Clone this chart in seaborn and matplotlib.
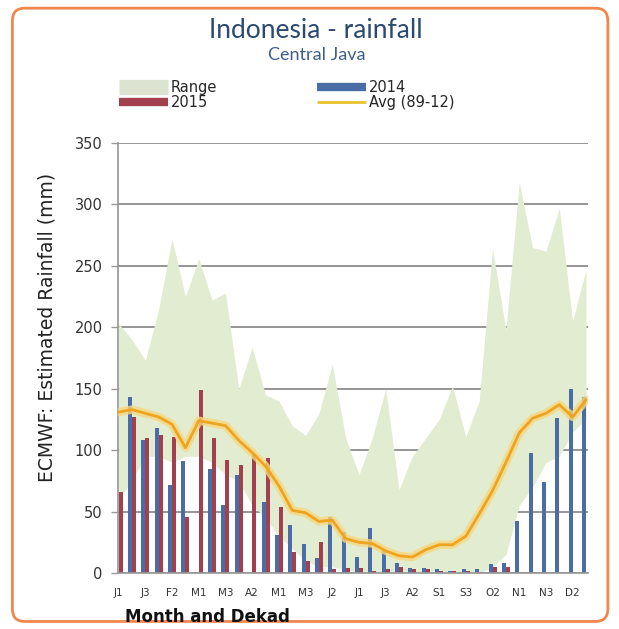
import numpy as np
import pandas as pd
import seaborn as sns
from matplotlib import pyplot as plt
from matplotlib.lines import Line2D
from matplotlib.patches import FancyBboxPatch

# dekads: Jan1 .. Dec3
dekads = ["J1", "J2", "J3", "F1", "F2", "F3", "M1", "M2", "M3", "A1", "A2", "A3",
          "M1", "M2", "M3", "J1", "J2", "J3", "J1", "J2", "J3", "A1", "A2", "A3",
          "S1", "S2", "S3", "O1", "O2", "O3", "N1", "N2", "N3", "D1", "D2", "D3"]

range_min = [60, 75, 95, 95, 90, 95, 95, 90, 80, 75, 55, 45,
             30, 20, 10, 5, 5, 3, 0, 0, 0, 0, 0, 0,
             0, 0, 0, 0, 5, 15, 55, 70, 90, 95, 115, 125]
range_max = [203, 190, 173, 215, 272, 225, 256, 222, 228, 150, 184, 145,
             140, 120, 112, 130, 170, 110, 80, 110, 150, 68, 95, 110,
             125, 152, 111, 140, 264, 198, 318, 265, 262, 297, 205, 247]
avg_8912 = [131, 133, 130, 127, 121, 102, 124, 122, 120, 108, 98, 87,
            71, 51, 49, 42, 43, 28, 25, 24, 18, 14, 13, 19,
            23, 23, 30, 48, 67, 90, 114, 126, 130, 137, 127, 141]
rain_2014 = [0, 143, 108, 118, 72, 91, 0, 85, 55, 80, 0, 58,
             31, 39, 24, 12, 46, 33, 13, 37, 19, 8, 4, 4,
             3, 2, 3, 3, 7, 8, 42, 98, 74, 126, 150, 143]
rain_2015 = [66, 127, 110, 112, 111, 46, 149, 110, 92, 88, 97, 94,
             54, 17, 10, 25, 3, 4, 4, 2, 3, 5, 3, 3,
             2, 2, 2, 1, 5, 5, 0, 0, 0, 0, 0, 0]

pos = np.arange(len(dekads))
bars = pd.DataFrame({
    "pos": np.concatenate([pos, pos]),
    "rain": rain_2014 + rain_2015,
    "year": ["2014"] * len(pos) + ["2015"] * len(pos),
})
avg = pd.DataFrame({"pos": pos, "avg": avg_8912})

sns.set_theme(style="white")
plt.rcParams['font.family'] = ['DejaVu Sans']

fig = plt.figure(figsize=(6.19, 6.29), dpi=100)
ax = fig.add_axes([0.1906, 0.089, 0.7593, 0.6836])

col_range = "#E2ECD0"
col_2014 = "#4A6DA8"
col_2015 = "#A3404D"
col_avg = "#EFA420"

ax.fill_between(pos, range_min, range_max, color=col_range, lw=0, zorder=1)
sns.barplot(data=bars, x="pos", y="rain", hue="year", hue_order=["2014", "2015"],
            palette={"2014": col_2014, "2015": col_2015}, native_scale=True,
            width=0.6, saturation=1, linewidth=0, legend=False, ax=ax, zorder=2)
sns.lineplot(data=avg, x="pos", y="avg", color="#F7D77E", lw=6, alpha=0.8, ax=ax, zorder=3)
sns.lineplot(data=avg, x="pos", y="avg", color=col_avg, lw=2, ax=ax, zorder=4)

ax.set_xlim(-0.05, 35.15)
ax.set_ylim(0, 350)
ax.set_yticks(range(0, 351, 50))
ax.set_xticks(pos[::2])
ax.set_xticklabels(dekads[::2], fontsize=7.5, color="#333333")
ax.tick_params(axis="y", labelsize=10.5, colors="#333333", length=5, width=1,
               color="#999999", left=True, pad=6)
ax.tick_params(axis="x", length=0, pad=11)
ax.set_xlabel("")
ax.set_ylabel("")
ax.set_axisbelow(True)
ax.yaxis.grid(True, color="#8C8C8C", lw=1.3)
for s in ["top", "right"]:
    ax.spines[s].set_visible(False)
ax.spines["left"].set_color("#999999")
ax.spines["bottom"].set_color("#999999")

fig.text(0.511, 0.952, "Indonesia - rainfall", ha="center", va="center",
         fontsize=19, color="#2B4A6F", family=["Lato", "DejaVu Sans"])
fig.text(0.512, 0.912, "Central Java", ha="center", va="center",
         fontsize=13, color="#3D5F87", family=["Lato", "DejaVu Sans"])
fig.text(0.076, 0.479, "ECMWF: Estimated Rainfall (mm)", rotation=90,
         ha="center", va="center", fontsize=13.5, color="#222222")
fig.text(0.202, 0.019, "Month and Dekad", ha="left", va="center",
         fontsize=12, fontweight="bold", color="#111111")

h1 = [Line2D([], [], color="#DCE3D0", lw=11, solid_capstyle="butt"),
      Line2D([], [], color=col_2015, lw=6, solid_capstyle="butt")]
h2 = [Line2D([], [], color=col_2014, lw=6, solid_capstyle="butt"),
      Line2D([], [], color="#E8C22A", lw=2, solid_capstyle="butt")]
leg_kw = dict(frameon=False, fontsize=10.5, handlelength=3.4, handletextpad=0.15,
              labelspacing=0.05, borderpad=0, loc="upper left")
fig.legend(h1, ["Range", "2015"], bbox_to_anchor=(0.18, 0.885), **leg_kw)
fig.legend(h2, ["2014", "Avg (89-12)"], bbox_to_anchor=(0.50, 0.885), **leg_kw)

border = FancyBboxPatch((0.02, 0.012), 0.962, 0.975,
                        boxstyle="round,pad=0,rounding_size=0.02",
                        transform=fig.transFigure, fc="none", ec="#F2874E", lw=2)
fig.patches.append(border)

fig.savefig("out.png", dpi=100)
